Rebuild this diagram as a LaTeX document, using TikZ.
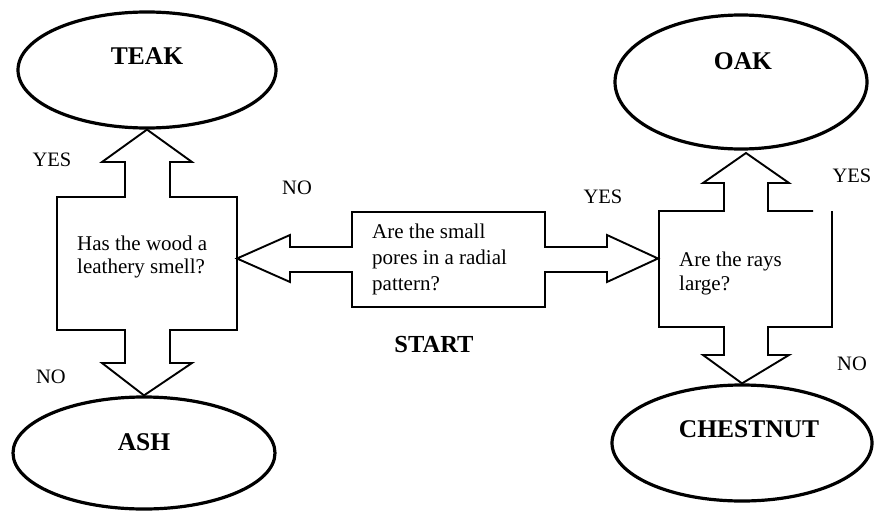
\documentclass[tikz,border=0pt]{standalone}
\usepackage{fontspec}
\setmainfont{Liberation Serif}
\usetikzlibrary{shapes.geometric}

\tikzset{
  result/.style={draw, ellipse, line width=3.2pt, inner sep=0pt},
  resultname/.style={anchor=base, inner sep=0pt, font=\fontsize{25.5}{30}\selectfont\bfseries},
  flowshape/.style={draw, line width=1.9pt, line join=miter},
  question/.style={anchor=north west, inner sep=0pt, align=left},
  answer/.style={anchor=base, inner sep=0pt, font=\fontsize{20.5}{24}\selectfont},
}

\begin{document}
\begin{tikzpicture}[x=1pt, y=-1pt]
\useasboundingbox (0,0) rectangle (874,511);

% result ellipses
\node[result, minimum width=258pt, minimum height=116pt] (teak) at (147,70) {};
\node[result, minimum width=262pt, minimum height=112pt] (ash) at (144,453) {};
\node[result, minimum width=252pt, minimum height=134pt] (oak) at (741,82) {};
\node[result, minimum width=260pt, minimum height=116pt] (chestnut) at (742,443) {};

\node[resultname] (teaklbl) at (147,64) {TEAK};
\node[resultname] (ashlbl) at (144,450) {ASH};
\node[resultname] (oaklbl) at (743,69) {OAK};
\node[resultname] (chestnutlbl) at (749,437) {CHESTNUT};

% left question box with its up (YES) and down (NO) block arrows
\draw[flowshape] (57,197) -- (125,197) -- (125,162) -- (102,162) -- (teak.south)
  -- (192,162) -- (170,162) -- (170,197) -- (237,197) -- (237,330)
  -- (170,330) -- (170,363) -- (192,363) -- (ash.north) -- (102,363)
  -- (125,363) -- (125,330) -- (57,330) -- cycle;

% right question box with its up (YES) and down (NO) block arrows
\draw[flowshape] (813,211) -- (768,211) -- (768,183) -- (789,183) -- (746,153)
  -- (703,183) -- (724,183) -- (724,211) -- (659,211) -- (659,327)
  -- (724,327) -- (724,355) -- (703,355) -- (chestnut.north) -- (789,355)
  -- (768,355) -- (768,327) -- (832,327) -- (832,211);
\coordinate (ltip) at (237,258.5);
\coordinate (rtip) at (658,258.5);

% start box with its left (NO) and right (YES) block arrows
\draw[flowshape] (352,212) -- (545,212) -- (545,247) -- (607,247) -- (607,235)
  -- (rtip) -- (607,282) -- (607,272) -- (545,272) -- (545,307) -- (352,307)
  -- (352,272) -- (290,272) -- (290,282) -- (ltip) -- (290,235) -- (290,247)
  -- (352,247) -- cycle;

% questions
\node[question, font=\fontsize{21}{23.5}\selectfont] (q1) at (77,235.5)
  {Has the wood a\\leathery smell?};
\node[question, font=\fontsize{21}{26}\selectfont] (q0) at (372,223.5)
  {Are the small\\pores in a radial\\pattern?};
\node[question, font=\fontsize{21}{24.5}\selectfont] (q2) at (679,251.5)
  {Are the rays\\large?};

\node[resultname, font=\fontsize{24.5}{30}\selectfont\bfseries] (start) at (434,352) {START};

% answers
\node[answer] (yes1) at (52,166) {YES};
\node[answer] (no1) at (51,383) {NO};
\node[answer] (no0) at (297,194) {NO};
\node[answer] (yes0) at (603,203) {YES};
\node[answer] (yes2) at (852,182) {YES};
\node[answer] (no2) at (852,370) {NO};
\end{tikzpicture}
\end{document}
